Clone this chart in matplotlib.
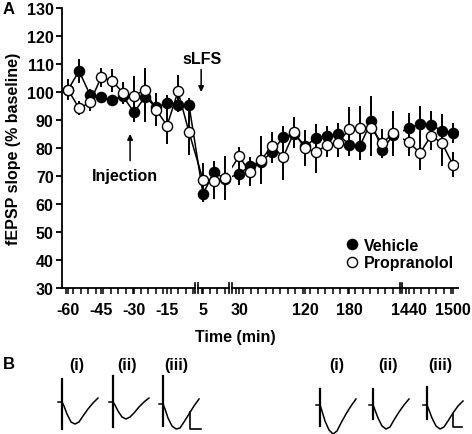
import numpy as np
import matplotlib
matplotlib.use("Agg")
import matplotlib.pyplot as plt
from matplotlib.lines import Line2D

plt.rcParams['font.family'] = ['Liberation Sans', 'DejaVu Sans']
plt.rcParams['font.weight'] = 'bold'
plt.rcParams['axes.labelweight'] = 'bold'

# ---- data (panel A) ----
base_t = [-60, -55, -50, -45, -40, -35, -30, -25, -20, -15, -10, -5]
post_t = [5, 10, 15]
late_t = [30, 45, 60, 75, 90, 105, 120, 135, 150, 165, 180, 195, 210, 225, 240]
day_t = [1440, 1455, 1470, 1485, 1500]

veh_mean = [100.8, 107.5, 99.0, 98.3, 97.0, 98.5, 92.7, 98.3, 94.5, 96.0, 95.2, 95.2,
            63.6, 71.4, 69.0,
            70.7, 73.7, 75.0, 78.7, 83.8, 85.0, 80.8, 83.4, 84.2, 85.0, 81.1, 80.8, 89.5, 79.4, 84.5,
            87.1, 88.6, 88.2, 86.2, 85.4]
veh_sem = [2.0, 4.2, 2.0, 1.5, 1.5, 2.0, 3.5, 9.0, 2.5, 3.0, 2.5, 2.5,
           3.0, 4.0, 3.0,
           4.0, 3.0, 4.0, 4.0, 4.0, 3.5, 5.0, 5.0, 3.5, 4.0, 4.0, 5.0, 9.0, 3.0, 4.0,
           5.5, 6.5, 5.0, 6.0, 3.5]
prop_mean = [100.8, 94.2, 96.3, 105.2, 104.1, 99.6, 98.7, 100.7, 93.7, 88.0, 100.2, 85.6,
             68.6, 68.2, 69.3,
             77.0, 71.3, 75.7, 80.8, 76.7, 85.6, 79.9, 78.5, 81.2, 81.8, 86.8, 87.1, 87.1, 81.7, 85.2,
             82.0, 78.2, 84.4, 81.7, 74.0]
prop_sem = [3.7, 2.5, 3.0, 3.5, 4.0, 4.0, 7.0, 8.0, 6.0, 6.5, 6.0, 8.0,
            6.0, 6.5, 8.0,
            3.5, 5.0, 8.5, 5.0, 8.0, 5.5, 6.5, 7.5, 4.5, 5.0, 8.0, 8.0, 10.0, 5.0, 8.0,
            5.0, 6.0, 5.0, 8.0, 4.5]

tick_times = [-60, -45, -30, -15, 5, 30, 120, 180, 1440, 1500]


def pos(t):
    # broken time axis: each segment has its own spacing
    t = np.asarray(t, dtype=float)
    return np.where(t <= 0, (t + 60) / 5,
           np.where(t < 30, 12.27 + (t - 5) / 5,
           np.where(t < 1000, 15.55 + (t - 30) / 15, 31.0 + (t - 1440) / 15)))


all_t = base_t + post_t + late_t + day_t
xp = pos(all_t)

# ---- data (panel B traces) ----
trace_t = [-4, 0, 2, 5, 9, 13, 17, 21, 26, 31, 36]
veh_traces = [[0, 0, -4, -12, -20, -22, -20, -14, -7, -1, 4],
              [0, 0, -3, -9, -15, -17, -15, -11, -5, 0, 4],
              [0, 0, -5, -14, -22, -25, -24, -18, -10, -2, 5]]
prop_traces = [[0, 0, -6, -16, -25, -29, -26, -18, -9, -1, 6],
               [0, 0, -5, -13, -21, -24, -22, -15, -7, 0, 6],
               [0, 0, -5, -13, -21, -24, -22, -16, -8, -1, 4]]
veh_artifact = [(23, -27), (26, -25), (28, -22)]
prop_artifact = [(16, -21), (16, -14), (18, -14)]
trace_labels = ['(i)', '(ii)', '(iii)']

fig = plt.figure(figsize=(4.72, 4.35), dpi=100)
ax = fig.add_axes([62 / 472, (435 - 289) / 435, 396 / 472, 280 / 435])

ax.errorbar(xp, veh_mean, yerr=veh_sem, fmt='none', ecolor='black', elinewidth=1.4, capsize=0, zorder=2)
ax.errorbar(xp, prop_mean, yerr=prop_sem, fmt='none', ecolor='black', elinewidth=1.4, capsize=0, zorder=2)
ax.plot(xp, veh_mean, color='black', lw=1.1, zorder=2)
ax.plot(xp, prop_mean, color='black', lw=1.1, zorder=2)

# gaps in the lines at the axis breaks
for b in [14.76, 30.28]:
    ax.axvspan(b - 0.18, b + 0.18, ymin=0.005, color='white', zorder=3, lw=0)

ax.plot(xp, veh_mean, 'o', color='black', ms=7.3, mec='black', mew=1, ls='none', zorder=4)
ax.plot(xp, prop_mean, 'o', color='white', ms=7.3, mec='black', mew=1, ls='none', zorder=5)

ax.set_xlim(-0.55, 35.45)
ax.set_ylim(30, 130)
ax.set_yticks(np.arange(30, 131, 10))
for s in ['top', 'right', 'bottom']:
    ax.spines[s].set_visible(False)
ax.spines['left'].set_linewidth(1.3)
ax.tick_params(axis='y', direction='out', length=4, width=1.3, labelsize=11.5, pad=2)
ax.tick_params(axis='x', which='both', direction='out', length=4, width=1.1, labelsize=11.5, pad=6)

ax.set_xticks(pos(tick_times))
ax.set_xticklabels([str(t) for t in tick_times])
segs = [(-0.55, 11.58), (11.84, 14.64), (14.88, 30.16), (30.4, 35.45)]
minor = []
for a, b in segs:
    minor += list(np.arange(a + 0.35, b - 0.1, 0.68))
ax.set_xticks(minor, minor=True)
for lbl in ax.get_xticklabels() + ax.get_yticklabels():
    lbl.set_fontweight('bold')

# broken x axis line
for a, b in segs:
    ax.plot([a, b], [30, 30], color='black', lw=1.3, clip_on=False, zorder=6)
for brk in [11.58, 11.84, 14.64, 14.88, 30.16, 30.4]:
    ax.plot([brk, brk], [28.3, 31.7], color='black', lw=1.2, clip_on=False, zorder=6)

ax.set_ylabel('fEPSP slope (% baseline)', fontsize=11.5, fontweight='bold', labelpad=4)
ax.set_xlabel('Time (min)', fontsize=11.5, fontweight='bold')
ax.xaxis.set_label_coords((235 - 62) / 396, -0.145)

ax.annotate('', xy=(12.1, 99.0), xytext=(12.1, 109.0),
            arrowprops=dict(arrowstyle='-|>', color='black', lw=1.1, mutation_scale=8))
ax.text(12.2, 111.8, 'sLFS', ha='center', va='center', fontsize=11.5, fontweight='bold')
ax.annotate('', xy=(5.64, 86.0), xytext=(5.64, 74.5),
            arrowprops=dict(arrowstyle='-|>', color='black', lw=1.1, mutation_scale=8))
ax.text(5.2, 70.0, 'Injection', ha='center', va='center', fontsize=11.5, fontweight='bold')

handles = [Line2D([], [], marker='o', ls='none', color='black', mfc='black', ms=7.3),
           Line2D([], [], marker='o', ls='none', color='black', mfc='white', ms=7.3)]
ax.legend(handles, ['Vehicle', 'Propranolol'], loc='lower left', bbox_to_anchor=(0.695, 0.035),
          frameon=False, handlelength=0.8, handletextpad=0.4, labelspacing=0.15,
          borderpad=0, prop={'size': 11.5, 'weight': 'bold'})

# ---- overlay for panel labels and traces (pixel coordinates) ----
bx = fig.add_axes([0, 0, 1, 1], zorder=-1)
bx.set_xlim(0, 472)
bx.set_ylim(435, 0)
bx.axis('off')
bx.text(3, 9, 'A', fontsize=12, fontweight='bold', ha='left', va='center')
bx.text(3, 365, 'B', fontsize=12, fontweight='bold', ha='left', va='center')

groups = [(veh_traces, veh_artifact, [62, 113, 163], [403, 403, 405], [77, 127, 176], (190, 413, 201, 430)),
          (prop_traces, prop_artifact, [320, 373, 427], [406, 406, 406], [337, 388, 440], (453, 415, 462, 428))]
for traces, arts, x0s, y0s, lx, bar in groups:
    for tr, art, x0, y0, lxx, lab in zip(traces, arts, x0s, y0s, lx, trace_labels):
        bx.plot(np.array(trace_t) + x0, y0 - np.array(tr), color='black', lw=1.1)
        bx.plot([x0, x0], [y0 - art[0], y0 - art[1]], color='black', lw=1.6)
        bx.text(lxx, 366, lab, ha='center', va='center', fontsize=11.5, fontweight='bold')
    bx.plot([bar[0], bar[0], bar[2]], [bar[1], bar[3], bar[3]], color='black', lw=1.2)

fig.savefig('out.png', dpi=100)
